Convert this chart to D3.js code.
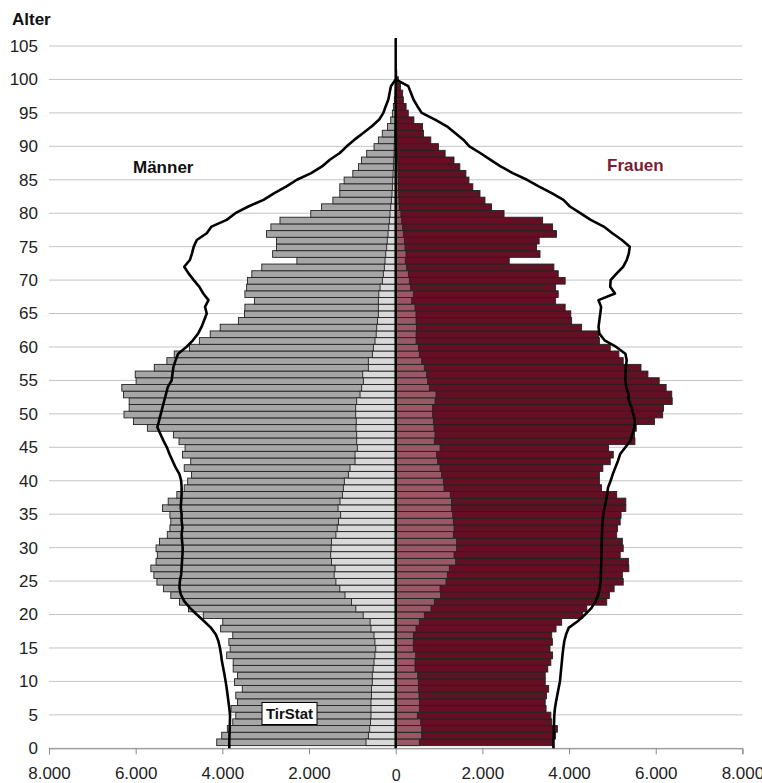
<!DOCTYPE html>
<html>
<head>
<meta charset="utf-8">
<script src="https://d3js.org/d3.v7.min.js"></script>
<style>
  body { margin: 0; background: #fff; }
  text { font-family: "Liberation Sans", Arial, sans-serif; }
</style>
</head>
<body>
<svg width="762" height="783"></svg>
<script>
const ages = d3.range(0, 101);

const menTotal = [4130, 4015, 3885, 3760, 3690, 3800, 3650, 3690, 3540, 3720,
  3650, 3750, 3750, 3900, 3820, 3850, 3760, 4040, 3990, 4440,
  4780, 4990, 5190, 5360, 5510, 5580, 5650, 5530, 5500, 5530,
  5450, 5270, 5210, 5190, 5210, 5380, 5250, 5050, 4880, 4800,
  4710, 4880, 4730, 4920, 4860, 5000, 5130, 5730, 6050, 6270,
  6150, 6150, 6280, 6320, 5990, 6010, 5570, 5280, 5110, 4760,
  4530, 4280, 4050, 3630, 3490, 3480, 3260, 3480, 3440, 3420,
  3320, 3090, 2280, 2840, 2750, 2750, 2980, 2880, 2670, 1960,
  1710, 1450, 1290, 1290, 1190, 990, 860, 790, 670, 500,
  400, 310, 190, 115, 77, 54, 31, 15, 8, 4, 2];

const menInner = [685, 630, 600, 580, 570, 570, 570, 560, 560, 540,
  540, 520, 500, 480, 460, 480, 500, 570, 590, 750,
  920, 1020, 1170, 1290, 1380, 1420, 1400, 1480, 1500, 1490,
  1480, 1380, 1350, 1320, 1270, 1330, 1285, 1230, 1208, 1185,
  1092, 1054, 938, 938, 885, 900, 900, 915, 910, 923,
  923, 900, 823, 785, 746, 761, 631, 631, 538, 515,
  477, 450, 438, 420, 400, 400, 400, 390, 361, 308,
  285, 262, 246, 230, 208, 195, 177, 160, 146, 131,
  115, 100, 85, 77, 69, 60, 54, 46, 38, 34,
  31, 26, 22, 18, 14, 11, 8, 6, 4, 2, 1];

const womenTotal = [3640, 3690, 3730, 3600, 3580, 3470, 3450, 3480, 3530, 3450,
  3450, 3510, 3580, 3620, 3560, 3615, 3600, 3700, 3830, 4315,
  4410, 4870, 4930, 5040, 5250, 5230, 5380, 5370, 5180, 5250,
  5230, 5100, 5120, 5180, 5200, 5310, 5310, 5100, 4750, 4700,
  4700, 4780, 4950, 5020, 4910, 5520, 5510, 5550, 5970, 6160,
  6180, 6380, 6370, 6240, 6080, 5820, 5660, 5250, 5150, 4950,
  4700, 4680, 4290, 4060, 4040, 3910, 3690, 3750, 3690, 3910,
  3750, 3650, 2620, 3330, 3250, 3310, 3710, 3620, 3390, 2500,
  2210, 2060, 1945, 1780, 1690, 1620, 1480, 1345, 1140, 985,
  810, 640, 620, 420, 290, 240, 176, 160, 110, 60, 25];

const womenInner = [546, 600, 600, 577, 500, 546, 546, 538, 523, 523,
  508, 446, 446, 461, 407, 407, 407, 469, 546, 661,
  815, 892, 1038, 1023, 1161, 1192, 1238, 1384, 1346, 1407,
  1407, 1330, 1346, 1330, 1315, 1292, 1290, 1260, 1115, 1099,
  1061, 1023, 969, 946, 1023, 892, 907, 884, 869, 853,
  853, 907, 930, 776, 738, 715, 661, 600, 546, 523,
  470, 470, 480, 470, 468, 446, 369, 407, 345, 315,
  292, 253, 220, 238, 215, 200, 176, 160, 138, 120,
  84, 75, 70, 65, 60, 55, 50, 45, 40, 35,
  30, 25, 20, 15, 12, 10, 8, 5, 3, 2, 1];

const menLine = [3840, 3840, 3835, 3830, 3825, 3823, 3840, 3860, 3880, 3900,
  3925, 3950, 3980, 4010, 4030, 4055, 4090, 4150, 4260, 4420,
  4590, 4750, 4880, 4960, 4990, 4980, 4950, 4940, 4930, 4920,
  4915, 4930, 4940, 4920, 4940, 4940, 4960, 4950, 4940, 4940,
  4950, 4990, 5080, 5150, 5220, 5280, 5360, 5430, 5500, 5460,
  5420, 5380, 5340, 5300, 5260, 5170, 5150, 5130, 5080, 5020,
  4830, 4680, 4560, 4480, 4420, 4360, 4400, 4320, 4440, 4530,
  4660, 4780, 4880, 4750, 4700, 4660, 4590, 4360, 4250, 3900,
  3700, 3400, 3050, 2800, 2520, 2280, 1950, 1700, 1520, 1290,
  1130, 950, 750, 550, 380, 285, 230, 170, 140, 110, 0];

const womenLine = [3640, 3640, 3645, 3650, 3655, 3660, 3675, 3700, 3730, 3760,
  3790, 3805, 3820, 3835, 3850, 3868, 3890, 3930, 3990, 4200,
  4370, 4520, 4615, 4676, 4710, 4730, 4735, 4740, 4745, 4750,
  4753, 4755, 4760, 4765, 4775, 4792, 4820, 4853, 4880, 4900,
  4960, 5010, 5070, 5130, 5180, 5300, 5420, 5460, 5510, 5520,
  5480, 5440, 5380, 5370, 5320, 5300, 5300, 5310, 5330, 5300,
  5090, 4820, 4700, 4680, 4700, 4720, 4740, 4680, 5060, 4950,
  4960, 5100, 5250, 5330, 5380, 5400, 5220, 5000, 4800, 4500,
  4260, 4020, 3870, 3600, 3300, 3030, 2700, 2420, 2180, 1950,
  1700, 1560, 1370, 1180, 908, 600, 500, 410, 350, 290, 0];

const yTicks = d3.range(0, 106, 5);
const xTicks = [-8000, -6000, -4000, -2000, 0, 2000, 4000, 6000, 8000];

const svg = d3.select('svg');
const x = d3.scaleLinear().domain([-8000, 8000]).range([49, 742.4]);
const y = d3.scaleLinear().domain([0, 105]).range([748.3, 46]);
const band = y(0) - y(1);

const de = d3.formatLocale({decimal: ',', thousands: '.', grouping: [3], currency: ['', '']});
const fmt = de.format(',');

// gridlines
svg.append('g').selectAll('line').data(yTicks).join('line')
  .attr('x1', x(-8000)).attr('x2', x(8000))
  .attr('y1', d => y(d)).attr('y2', d => y(d))
  .attr('stroke', '#c4c4c4').attr('stroke-width', 1);

// y axis labels
svg.append('g')
  .attr('transform', `translate(${x(-8000)},0)`)
  .call(d3.axisLeft(y).tickValues(yTicks).tickSize(0).tickPadding(11))
  .call(g => g.select('.domain').remove())
  .attr('font-family', '"Liberation Sans", Arial, sans-serif')
  .attr('font-size', 17)
  .selectAll('text').attr('fill', '#222');

// bars
function bars(vals, side, fill) {
  svg.append('g').selectAll('rect').data(ages).join('rect')
    .attr('x', a => side < 0 ? x(-vals[a]) : x(0))
    .attr('width', a => x(vals[a]) - x(0))
    .attr('y', a => y(a + 0.9) - band / 2)
    .attr('height', band)
    .attr('fill', fill)
    .attr('stroke', '#222')
    .attr('stroke-width', 0.9);
}
bars(menTotal, -1, '#a6a6a6');
bars(menInner, -1, '#d9d9d9');
bars(womenTotal, 1, '#640f23');
bars(womenInner, 1, '#9a5866');

// x axis
const xAxis = svg.append('g')
  .attr('transform', `translate(0,${y(0)})`)
  .call(d3.axisBottom(x).tickValues(xTicks).tickSize(6).tickPadding(13)
    .tickFormat(d => fmt(Math.abs(d))))
  .attr('font-family', '"Liberation Sans", Arial, sans-serif')
  .attr('font-size', 17);
xAxis.select('.domain').attr('stroke', '#888');
xAxis.selectAll('.tick line').attr('stroke', '#888');
xAxis.selectAll('.tick text').attr('fill', '#222')
  .filter(d => d === 0).attr('y', 21).attr('font-size', 16);

// centre line
svg.append('line')
  .attr('x1', x(0)).attr('x2', x(0))
  .attr('y1', 38).attr('y2', y(0))
  .attr('stroke', '#000').attr('stroke-width', 2.5);

// comparison lines
const lineMen = d3.line().x(a => x(-menLine[a])).y(a => y(a));
const lineWomen = d3.line().x(a => x(womenLine[a])).y(a => y(a));
svg.append('path').attr('d', lineMen(ages))
  .attr('fill', 'none').attr('stroke', '#000').attr('stroke-width', 2.6)
  .attr('stroke-linejoin', 'round');
svg.append('path').attr('d', lineWomen(ages))
  .attr('fill', 'none').attr('stroke', '#000').attr('stroke-width', 2.6)
  .attr('stroke-linejoin', 'round');

// labels
svg.append('text').attr('x', 12).attr('y', 24.5)
  .attr('font-size', 17).attr('font-weight', 'bold').attr('fill', '#111').text('Alter');
svg.append('text').attr('x', 133).attr('y', 172.5)
  .attr('font-size', 17).attr('font-weight', 'bold').attr('fill', '#111').text('Männer');
svg.append('text').attr('x', 607).attr('y', 171)
  .attr('font-size', 17).attr('font-weight', 'bold').attr('fill', '#7b1c33').text('Frauen');

svg.append('rect').attr('x', 262).attr('y', 702.5).attr('width', 55).attr('height', 22)
  .attr('fill', '#fff').attr('stroke', '#000').attr('stroke-width', 1);
svg.append('text').attr('x', 289.5).attr('y', 718.5).attr('text-anchor', 'middle')
  .attr('font-size', 15).attr('font-weight', 'bold').attr('fill', '#111').text('TirStat');
</script>
</body>
</html>
